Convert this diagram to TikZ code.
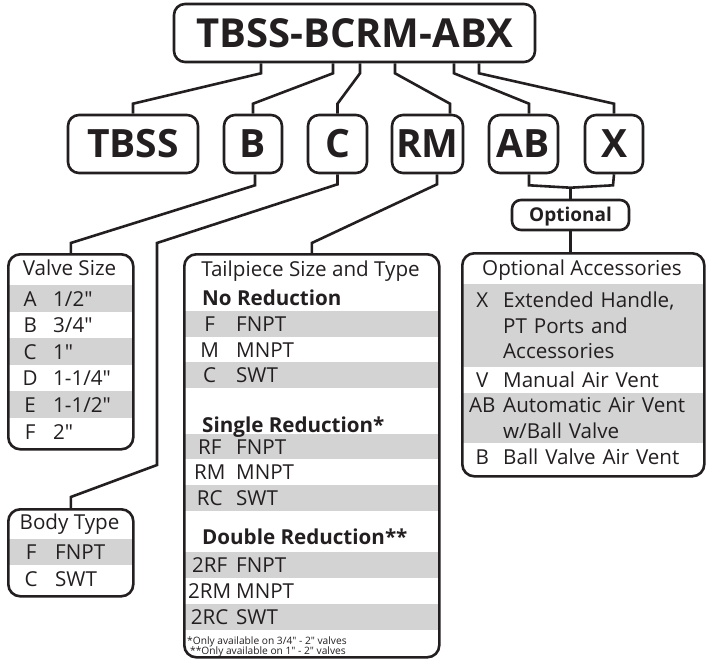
\documentclass[tikz,border=0pt]{standalone}
\usepackage{fontspec}
\setmainfont{Open Sans}[Ligatures=TeXOff]
\usetikzlibrary{positioning,calc}
\definecolor{ink}{HTML}{231F20}
\definecolor{band}{HTML}{D3D3D3}
\newcommand{\tblfont}{\fontsize{20.6}{25.5}\selectfont}
\newcommand{\keyed}[3]{\makebox[#1][c]{#2}#3}

\begin{document}
\begin{tikzpicture}[x=1pt, y=-1pt,
  box/.style={draw=ink, line width=2.6pt, rounded corners=11pt, inner sep=0pt,
              minimum height=58pt, text height=27.8pt, text depth=0pt, text=ink,
              font=\fontsize{39}{44}\selectfont\bfseries},
  tbl/.style={draw=ink, line width=2.6pt, rounded corners=12pt, anchor=north west,
              inner sep=0pt},
  row/.style 2 args={anchor=north west, inner sep=0pt, text width=#1,
              minimum height=#2, align=left, font=\tblfont, text=ink},
  one/.style={text height=14.7pt, text depth=0pt},
  ttl/.style={inner sep=0pt, text height=14.7pt, text depth=0pt, text=ink, font=\tblfont},
  head/.style={ttl, anchor=west, font=\tblfont\bfseries},
  note/.style={inner sep=0pt, anchor=west, text=ink, font=\fontsize{10.2}{11}\selectfont},
  link/.style={draw=ink, line width=2.6pt}
]
\useasboundingbox (0,0) rectangle (706,658);

% code boxes
\node[box, minimum width=361pt, text height=28.6pt,
      font=\fontsize{40}{46}\selectfont\bfseries] (main) at (354.5,33) {TBSS-BCRM-ABX};
\node[box, minimum width=130pt] (tbss) at (133,144)   {TBSS};
\node[box, minimum width=58pt]  (bbox) at (253,144)   {B};
\node[box, minimum width=59pt]  (cbox) at (337.5,144) {C};
\node[box, minimum width=71pt]  (rm)   at (427.5,144) {RM};
\node[box, minimum width=69pt]  (ab)   at (523.5,144) {AB};
\node[box, minimum width=58pt]  (xb)   at (614,144)   {X};
\node[box, minimum width=117pt, minimum height=30pt, rounded corners=9pt, text height=13.6pt,
      font=\fontsize{19}{22}\selectfont\bfseries] (opt) at (570.5,215) {Optional};

% valve size
\node[row={125pt}{27pt}, one, fill=band] (vsA) at (7,285) {\keyed{46pt}{A}{1/2"}};
\node[row={125pt}{26pt}, one]            (vsB) at (7,312) {\keyed{46pt}{B}{3/4"}};
\node[row={125pt}{27pt}, one, fill=band] (vsC) at (7,338) {\keyed{46pt}{C}{1"}};
\node[row={125pt}{26pt}, one]            (vsD) at (7,365) {\keyed{46pt}{D}{1-1/4"}};
\node[row={125pt}{27pt}, one, fill=band] (vsE) at (7,391) {\keyed{46pt}{E}{1-1/2"}};
\node[row={125pt}{27pt}, one]            (vsF) at (7,418) {\keyed{46pt}{F}{2"}};
\node[tbl, minimum width=125pt, minimum height=195pt] (valve) at (7,253) {};
\node[ttl] (vsTitle) at (69.5,268) {Valve Size};

% body type
\node[row={125pt}{26pt}, one, fill=band] (btF) at (7,539) {\keyed{48pt}{F}{FNPT}};
\node[row={125pt}{27pt}, one]            (btC) at (7,565) {\keyed{48pt}{C}{SWT}};
\node[tbl, minimum width=125pt, minimum height=87pt] (body) at (7,508) {};
\node[ttl] (btTitle) at (69.5,522) {Body Type};

% tailpiece size and type
\node[row={255pt}{26pt}, one, fill=band] (tpF)   at (183,311) {\keyed{53pt}{F}{FNPT}};
\node[row={255pt}{25pt}, one]            (tpM)   at (183,337) {\keyed{53pt}{M}{MNPT}};
\node[row={255pt}{26pt}, one, fill=band] (tpC)   at (183,362) {\keyed{53pt}{C}{SWT}};
\node[row={255pt}{25pt}, one, fill=band] (tpRF)  at (183,434) {\keyed{53pt}{RF}{FNPT}};
\node[row={255pt}{26pt}, one]            (tpRM)  at (183,459) {\keyed{53pt}{RM}{MNPT}};
\node[row={255pt}{26pt}, one, fill=band] (tpRC)  at (183,485) {\keyed{53pt}{RC}{SWT}};
\node[row={255pt}{26pt}, one, fill=band] (tp2RF) at (183,552) {\keyed{53pt}{2RF}{FNPT}};
\node[row={255pt}{26pt}, one]            (tp2RM) at (183,578) {\keyed{53pt}{2RM}{MNPT}};
\node[row={255pt}{26pt}, one, fill=band] (tp2RC) at (183,604) {\keyed{53pt}{2RC}{SWT}};
\node[tbl, minimum width=255pt, minimum height=403pt] (tail) at (183,253) {};
\node[ttl]  (tpTitle)  at (310.5,269) {Tailpiece Size and Type};
\node[head] (tpNone)   at (202,298) {No Reduction};
\node[head] (tpSingle) at (202,425) {Single Reduction*};
\node[head] (tpDouble) at (202,537) {Double Reduction**};
\node[note] (tpNoteA)  at (187,642) {*Only available on 3/4" - 2" valves};
\node[note] (tpNoteB)  at (190,652) {**Only available on 1" - 2" valves};

% optional accessories
\node[row={242pt}{83pt}, fill=band] (accX)  at (461,284)
  {\keyed{42pt}{X}{Extended Handle,}\\\hspace*{42pt}PT Ports and\\\hspace*{42pt}Accessories};
\node[row={242pt}{26pt}, one]       (accV)  at (461,367) {\keyed{42pt}{V}{Manual Air Vent}};
\node[row={242pt}{50pt}, fill=band] (accAB) at (461,393)
  {\keyed{42pt}{AB}{Automatic Air Vent}\\\hspace*{42pt}w/Ball Valve};
\node[row={242pt}{27pt}, one]       (accB)  at (461,443) {\keyed{42pt}{B}{Ball Valve Air Vent}};
\node[tbl, minimum width=242pt, minimum height=223pt] (acc) at (461,252) {};
\node[ttl] (accTitle) at (582,268) {Optional Accessories};

% connectors
\draw[link] ($(main.south)+(-93.5,0)$) -- ++(0,10) -- ($(tbss.north)+(0,-10)$) -- (tbss.north);
\draw[link] ($(main.south)+(-21.5,0)$) -- ++(0,10) -- ($(bbox.north)+(0,-10)$) -- (bbox.north);
\draw[link] ($(main.south)+(5.5,0)$)   -- ++(0,10) -- ($(cbox.north)+(0,-10)$) -- (cbox.north);
\draw[link] ($(main.south)+(40.5,0)$)  -- ++(0,10) -- ($(rm.north)+(22.5,-10)$) -- ($(rm.north)+(22.5,0)$);
\draw[link] ($(main.south)+(99.5,0)$)  -- ++(0,10) -- ($(ab.north)+(5.5,-10)$) -- ($(ab.north)+(5.5,0)$);
\draw[link] ($(main.south)+(124.5,0)$) -- ++(0,10) -- ($(xb.north)+(0,-10)$) -- (xb.north);

\draw[link] ($(bbox.south)+(2,0)$) -- ++(0,11) -- ($(valve.north)+(0,-10)$) -- (valve.north);
\draw[link] (cbox.south) -- ++(0,10) -- (157,243) -- (157,465) -- ($(body.north)+(0,-11)$) -- (body.north);
\draw[link] ($(rm.south)+(9.5,0)$) -- ++(0,10) -- ($(tail.north)+(0,-10)$) -- (tail.north);

\draw[link] ($(ab.south)+(5.5,0)$) -- ++(0,11) -- ($(opt.north)+(0,-11)$) -- ($(xb.south)+(-1,11)$) -- (xb.south);
\draw[link] ($(opt.north)+(0,-11)$) -- (opt.north);
\draw[link] (opt.south) -- (opt.south |- acc.north);
\end{tikzpicture}
\end{document}
